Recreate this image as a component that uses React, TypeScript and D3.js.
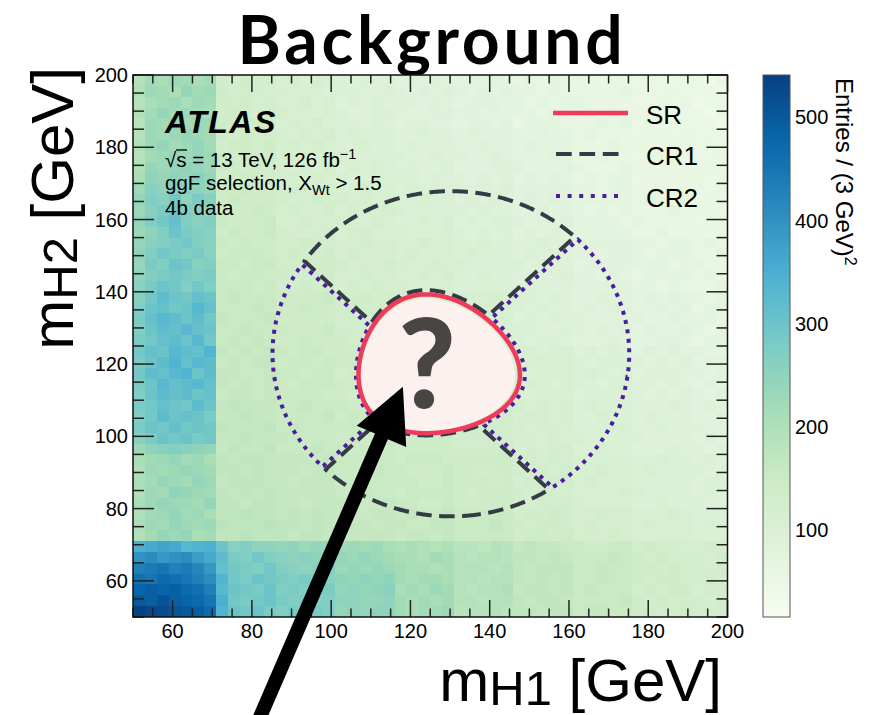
import React, { useMemo } from 'react';
import * as d3 from 'd3';

// ---------------------------------------------------------------------------
// Data
// ---------------------------------------------------------------------------

// Histogram range (GeV) and bin width
const M_MIN = 50;
const M_MAX = 200;
const BIN = 3;

// Entries per (3 GeV)^2 bin, one character per bin along m_H1 (50 -> 200).
// Rows run from the top m_H2 bin (197-200) down to the bottom one (50-53).
// Character code: value = 10 * (LEVELS.indexOf(ch) + 1)
const LEVELS = '0123456789abcdefghijklmnopqrstuvwxyzABCDEFGHIJKLMNOPQRSTUVWXYZ';
const entryRows = [
  'ilkmlkl cbdcc ab9ba 98988 78787 67676 56565 55455 45445 434',
  'jmlknlm dcccb baaa9 99889 87878 76767 66565 55556 54454 443',
  'iklmkml ccdbc aab9a 89898 88787 67776 65656 65555 44545 344',
  'jlnlmlk cdcbc baa9a 98899 87788 77676 66566 56565 54444 434',
  'hmlnlmm dccdc abab9 99898 78877 67767 56665 55656 45454 443',
  'imlmnml dcdcc babab 9a999 88988 78777 66766 56555 45545 444',
  'jmnlmnl cddcd bbaba 99a99 89888 77877 67666 55565 54455 454',
  'ilmnmnm dcdcd abbab a9999 98898 87787 66676 55655 45554 445',
  'jnmnonm ddcdc bab9b 9a9a9 89889 77788 76667 65556 55454 454',
  'kononpn cdddc bbaba a99a9 99898 87878 67676 56566 45555 545',
  'mpoqpon ddedd bcbbb aabaa 9a999 88989 77777 66566 55555 545',
  'nqpsorp deddd cbbcb babaa 99a99 89898 78787 66666 56556 454',
  'mprtqpo ddded bcbbc abaab a9999 98988 77877 65656 55565 554',
  'nqsuqpq eddde bbcbb baaba 99a9a 89899 87778 66665 65555 455',
  'moqtrqp dedde cbbbc abbaa a999a 98989 78787 66666 55655 545',
  'npqrsqp ededd ccdcc bbcbb aabaa 99a99 88988 77777 66566 565',
  'oqsrqrp deeed cdccd bcbbb abaaa 9a999 89898 77677 65666 556',
  'nrqtspq eedee ccdcc cbbbc baaba a9999 98988 67777 66656 655',
  'oqrsrqr edeed dcccd bbcbb aabab 99a99 88889 77676 56666 565',
  'prtsqsq eeede ccdcc bcbcb baaaa 99999 89888 77777 66565 556',
  'psvtsut efeee dddde ccdcc bbbcb aaaba 99898 77877 67676 656',
  'qtustwu eeefe ddedd cdccc bbcbb aabaa 98988 78787 66767 566',
  'ruwvtvs feeef ddddd cccdc cbbbb babaa 89898 87777 76676 665',
  'qtvuwut eefee eddde ccccd bbbcb aaaaa 99889 87878 67667 656',
  'rsuvtws efefe ddedd dcccc bcbbb abaab 98998 77787 66776 566',
  'sutwvux fefef edeed ddcdd ccbcc bbaba aa9aa 89898 78787 766',
  'rtvxuwv efeff deede ddddc ccccb abbaa 9aaaa 98999 87878 677',
  'svuwxtv ffeef eedee cdddd cbccc babab a9aaa 9a989 78887 767',
  'rtwuvwu fefef edeee ddcdd ccccb abaaa aaa9a 99899 88787 676',
  'qtvuvtu effef eeeed dcddd bcccc baaba a9aaa 89999 87878 767',
  'rsutsvt fgfff eefee eddee ddddd ccccc babab 9a999 88898 787',
  'qsvtutr ffgff eeeef dedde ddcdd ccccc abbab 99a99 89888 778',
  'rtsusts gfffg efeee eedde dddcd cdccc babba 9999a 88988 877',
  'prtstrs ffgff feeee dedde cdddd ccccc bbaba a9999 98888 787',
  'mopqpon fgffg eeefe edeee ddddd ccccd ababb 99a99 88898 878',
  'klmnlmk gfggf fffef eeeee deeed ddddd bcbcb aaaaa 99a99 898',
  'jmlmnml ggfgf ffeff eeefe eddde ddcdd cbcbc aabaa 9a999 988',
  'klnmlnm fgggf fefff eeeee eedde dddcd bcbcc abaaa 99999 899',
  'jmlonml gfgfg fffff eefee deeee dcddd cbcbb aaaab a9999 898',
  'kmnmmln ggfgg ffeff feeef eedde ddddd cbccc baaaa 99a99 988',
  'jlmnlmk gghgg fgfgf ffeff efeef eeeee cdcdc bbcbb aaaba 999',
  'kmlnmlm hgggh ggfgf fffef feeff eeefe dcddc bcbbb abaaa 9a9',
  'jlnmnkl gghgg gfggf fffff effef eeeee cddcd bbbcb aaaaa 999',
  'yzAzwxy tpqoo nomnn lmlmk jkjij hhgih fgffe eddee cdccb bcb',
  'DECDEBz vrqsq popoo nmnml kkjlk ihiih ggfgf eeefe dcdcc cbc',
  'GHIGHFC usrqs qpopq mnmnm lkkjk iiihi gfggg eefee ddcdc cbc',
  'JIKJIGE xsrts rqrqp onono lkllk iihii gfgfg eefee dcddc ccb',
  'LMLMKJG wtsrt qrqqr nonop klkml ihiij fggfg efeee cdcdd bcc',
  'NMOMLKI ysrst rqrqq oonno lklkl iihii gfggf eeeef dcdcc cbc',
  'RQPONMK xtstr qrqrq nonoo lkllm hiiih ggfgg effee ddccd ccc',
];

// Colour scale range of the z axis
const Z_MIN = 16;
const Z_MAX = 541;

// Axis ticks
const xMajorTicks = [60, 80, 100, 120, 140, 160, 180, 200];
const yMajorTicks = [60, 80, 100, 120, 140, 160, 180, 200];
const zTicks = [100, 200, 300, 400, 500];
const MINOR_STEP = 5;

// Signal region: X_HH < 1.6 around (124, 117) GeV
const SR_CENTER = [124, 117];
const SR_XHH_CUT = 1.6;
// Control regions: ring of radius 45 GeV around (1.05*124, 1.05*117),
// split into quadrants by the diagonals through the SR centre
const CR_CENTER = [130.2, 122.85];
const CR_RADIUS = 45;

// Pointer arrow (data coordinates: tail below the axis, tip inside the SR)
const arrowTail = [80.3, 17.9];
const arrowTip = [118.1, 113.7];

const legendItems = [
  { label: 'SR', key: 'SR' },
  { label: 'CR1', key: 'CR1' },
  { label: 'CR2', key: 'CR2' },
];

// ---------------------------------------------------------------------------
// Drawing
// ---------------------------------------------------------------------------

const W = 884;
const H = 715;
const PLOT = { left: 133, right: 727.5, top: 75, bottom: 617 };
const SANS = '"Liberation Sans", Arial, Helvetica, sans-serif';

const COLORS = {
  sr: '#f03a5c',
  srFill: '#fdf1ef',
  cr1: '#343a46',
  cr2: '#4b1d9e',
  tick: '#222',
  mark: '#4a4545',
};

function xhh(m1: number, m2: number) {
  const a = (m1 - SR_CENTER[0]) / (0.1 * m1);
  const b = (m2 - SR_CENTER[1]) / (0.1 * m2);
  return Math.sqrt(a * a + b * b);
}

function decodeRows(rows: string[]): number[][] {
  return rows.map((r) =>
    r
      .replace(/\s+/g, '')
      .split('')
      .map((ch) => 10 * (LEVELS.indexOf(ch) + 1))
  );
}

export default function App() {
  const x = d3.scaleLinear().domain([M_MIN, M_MAX]).range([PLOT.left, PLOT.right]);
  const y = d3.scaleLinear().domain([M_MIN, M_MAX]).range([PLOT.bottom, PLOT.top]);
  // GnBu palette, linear between its nine stops
  const palette = d3.schemeGnBu[9] as string[];
  const color = d3
    .scaleLinear<string>()
    .domain(palette.map((_, k) => Z_MIN + (k / (palette.length - 1)) * (Z_MAX - Z_MIN)))
    .range(palette)
    .interpolate(d3.interpolateRgb)
    .clamp(true);
  const zy = d3.scaleLinear().domain([Z_MIN, Z_MAX]).range([PLOT.bottom, PLOT.top]);

  const grid = useMemo(() => decodeRows(entryRows), []);

  const paths = useMemo(() => {
    const step = 0.25;
    const n = Math.round((M_MAX - M_MIN) / step) + 1;
    const toPath = (field: (m1: number, m2: number) => number) => {
      const values: number[] = new Array(n * n);
      for (let r = 0; r < n; r++) {
        const m2 = M_MAX - r * step;
        for (let c = 0; c < n; c++) {
          const m1 = M_MIN + c * step;
          values[r * n + c] = field(m1, m2);
        }
      }
      const [geom] = d3.contours().size([n, n]).thresholds([0])(values);
      let d = '';
      for (const poly of geom.coordinates) {
        for (const ring of poly) {
          ring.forEach((p, i) => {
            const px = x(M_MIN + (p[0] - 0.5) * step);
            const py = y(M_MAX - (p[1] - 0.5) * step);
            d += (i === 0 ? 'M' : 'L') + px.toFixed(2) + ',' + py.toFixed(2);
          });
          d += 'Z';
        }
      }
      return d;
    };
    const ring = (m1: number, m2: number) =>
      CR_RADIUS - Math.hypot(m1 - CR_CENTER[0], m2 - CR_CENTER[1]);
    const quad = (m1: number, m2: number) => {
      const dx = Math.abs(m1 - SR_CENTER[0]);
      const dy = Math.abs(m2 - SR_CENTER[1]);
      return (dy - dx) / Math.SQRT2;
    };
    return {
      sr: toPath((a, b) => 15 * (SR_XHH_CUT - xhh(a, b))),
      srFill: toPath((a, b) => 15 * (SR_XHH_CUT - 0.07 - xhh(a, b))),
      cr1: toPath((a, b) =>
        Math.min(ring(a, b), 15 * (xhh(a, b) - SR_XHH_CUT - 0.07), quad(a, b) - 0.55)
      ),
      cr2: toPath((a, b) =>
        Math.min(ring(a, b), 15 * (xhh(a, b) - SR_XHH_CUT - 0.07), -quad(a, b) - 0.55)
      ),
    };
  }, []);

  // Heatmap cells
  const nBins = (M_MAX - M_MIN) / BIN;
  const cells: React.ReactNode[] = [];
  grid.forEach((row, r) => {
    const j = nBins - 1 - r;
    row.forEach((v, i) => {
      const x0 = x(M_MIN + i * BIN);
      const x1 = x(M_MIN + (i + 1) * BIN);
      const y0 = y(M_MIN + (j + 1) * BIN);
      const y1 = y(M_MIN + j * BIN);
      cells.push(
        <rect key={`${r}-${i}`} x={x0} y={y0} width={x1 - x0} height={y1 - y0} fill={color(v)} />
      );
    });
  });

  // Ticks
  const minor = d3.range(M_MIN, M_MAX + 0.001, MINOR_STEP);
  const tickLines: React.ReactNode[] = [];
  minor.forEach((t) => {
    const major = xMajorTicks.includes(t);
    const lx = major ? 17 : 8.5;
    const px = x(t);
    tickLines.push(<line key={`xb${t}`} x1={px} x2={px} y1={PLOT.bottom} y2={PLOT.bottom - lx} />);
    tickLines.push(<line key={`xt${t}`} x1={px} x2={px} y1={PLOT.top} y2={PLOT.top + lx} />);
    const majorY = yMajorTicks.includes(t);
    const ly = majorY ? 21 : 11;
    const py = y(t);
    tickLines.push(<line key={`yl${t}`} x1={PLOT.left} x2={PLOT.left + ly} y1={py} y2={py} />);
    tickLines.push(<line key={`yr${t}`} x1={PLOT.right} x2={PLOT.right - ly} y1={py} y2={py} />);
  });

  // Arrow polygon
  const T = [x(arrowTail[0]), y(arrowTail[1])];
  const P = [x(arrowTip[0]), y(arrowTip[1])];
  const len = Math.hypot(P[0] - T[0], P[1] - T[1]);
  const u = [(P[0] - T[0]) / len, (P[1] - T[1]) / len];
  const nrm = [-u[1], u[0]];
  const headLen = 54;
  const headHalf = 27;
  const shaftHalf = 7;
  const B = [P[0] - u[0] * headLen, P[1] - u[1] * headLen];
  const pt = (base: number[], k: number) => [base[0] + nrm[0] * k, base[1] + nrm[1] * k];
  const arrowPts = [
    pt(T, shaftHalf),
    pt(B, shaftHalf),
    pt(B, headHalf),
    P,
    pt(B, -headHalf),
    pt(B, -shaftHalf),
    pt(T, -shaftHalf),
  ]
    .map((p) => p[0].toFixed(1) + ',' + p[1].toFixed(1))
    .join(' ');

  // Colour bar gradient
  const gradStops = d3.range(0, 1.0001, 0.05);

  const legendX0 = 553;
  const legendX1 = 628;
  const legendRows = [113, 154, 196];

  return (
    <svg
      width={W}
      height={H}
      viewBox={`0 0 ${W} ${H}`}
      style={{ position: 'absolute', left: 0, top: 0, background: '#fff' }}
      fontFamily={SANS}
    >
      <defs>
        <linearGradient id="zgrad" x1="0" y1="1" x2="0" y2="0">
          {gradStops.map((t) => (
            <stop key={t} offset={t} stopColor={color(Z_MIN + t * (Z_MAX - Z_MIN))} />
          ))}
        </linearGradient>
        <clipPath id="plotclip">
          <rect x={PLOT.left} y={PLOT.top} width={PLOT.right - PLOT.left} height={PLOT.bottom - PLOT.top} />
        </clipPath>
      </defs>

      {/* title */}
      <text
        x={432}
        y={64}
        textAnchor="middle"
        fontFamily="Lato, sans-serif"
        fontWeight={700}
        fontSize={66}
        letterSpacing={3.7}
        fill="#000"
      >
        Background
      </text>

      {/* 2D histogram */}
      <g shapeRendering="crispEdges">{cells}</g>

      {/* regions */}
      <g clipPath="url(#plotclip)">
        <path d={paths.srFill} fill={COLORS.srFill} stroke="none" />
        <path d={paths.cr2} fill="none" stroke={COLORS.cr2} strokeWidth={4} strokeDasharray="4 5.5" />
        <path d={paths.cr1} fill="none" stroke={COLORS.cr1} strokeWidth={4} strokeDasharray="15.5 7.5" />
        <path d={paths.sr} fill="none" stroke={COLORS.sr} strokeWidth={4.5} strokeLinejoin="round" />
      </g>

      {/* frame and ticks */}
      <g stroke={COLORS.tick} strokeWidth={1.5}>{tickLines}</g>
      <rect
        x={PLOT.left}
        y={PLOT.top}
        width={PLOT.right - PLOT.left}
        height={PLOT.bottom - PLOT.top}
        fill="none"
        stroke="#111"
        strokeWidth={1.5}
      />

      {/* tick labels */}
      <g fontSize={20} fill="#000">
        {xMajorTicks.map((t) => (
          <text key={`xl${t}`} x={x(t)} y={638} textAnchor="middle">
            {t}
          </text>
        ))}
        {yMajorTicks.map((t) => (
          <text key={`yl${t}`} x={128} y={y(t) + 7} textAnchor="end">
            {t}
          </text>
        ))}
      </g>

      {/* axis titles */}
      <text x={722} y={701} textAnchor="end" fontSize={60} fill="#000">
        m
        <tspan fontSize={49} dy={4}>
          H1
        </tspan>
        <tspan dy={-4}> [GeV]</tspan>
      </text>
      <text transform="translate(73,67) rotate(-90)" textAnchor="end" fontSize={60} fill="#000">
        m
        <tspan fontSize={49} dy={4}>
          H2
        </tspan>
        <tspan dy={-4}> [GeV]</tspan>
      </text>

      {/* ATLAS label */}
      <text x={165} y={133} fontSize={32} fontWeight={700} fontStyle="italic" letterSpacing={1.5} fill="#000">
        ATLAS
      </text>
      <g fontSize={20.5} fill="#000">
        <text x={165} y={167}>
          √s = 13 TeV, 126 fb
          <tspan fontSize={14.5} dy={-8}>
            −1
          </tspan>
        </text>
        <line x1={176} x2={187} y1={150} y2={150} stroke="#000" strokeWidth={1.3} />
        <text x={165} y={190}>
          ggF selection, X
          <tspan fontSize={14.5} dy={5}>
            Wt
          </tspan>
          <tspan dy={-5}> &gt; 1.5</tspan>
        </text>
        <text x={165} y={215}>
          4b data
        </text>
      </g>

      {/* legend */}
      <g>
        {legendItems.map((it, k) => {
          const ly = legendRows[k];
          const stroke =
            it.key === 'SR' ? (
              <line x1={legendX0} x2={legendX1} y1={ly} y2={ly} stroke={COLORS.sr} strokeWidth={4.5} />
            ) : it.key === 'CR1' ? (
              <line x1={556} x2={618.5} y1={ly} y2={ly} stroke={COLORS.cr1} strokeWidth={4} strokeDasharray="15.7 7.7" />
            ) : (
              <line x1={556} x2={618} y1={ly} y2={ly} stroke={COLORS.cr2} strokeWidth={4} strokeDasharray="4 7.6" />
            );
          return (
            <g key={it.key}>
              {stroke}
              <text x={646} y={ly + 11} fontSize={26} fill="#000">
                {it.label}
              </text>
            </g>
          );
        })}
      </g>

      {/* question mark and pointer */}
      <text x={427} y={408} textAnchor="middle" fontFamily="Lato, sans-serif" fontWeight={900} fontSize={124} fill={COLORS.mark}>
        ?
      </text>
      <polygon points={arrowPts} fill="#000" />

      {/* colour bar */}
      <rect
        x={763}
        y={PLOT.top}
        width={27}
        height={PLOT.bottom - PLOT.top}
        fill="url(#zgrad)"
        stroke="#555"
        strokeWidth={1}
      />
      <g fontSize={20} fill="#000">
        {zTicks.map((t) => (
          <text key={`z${t}`} x={795} y={zy(t) + 7}>
            {t}
          </text>
        ))}
      </g>
      <text transform="translate(836,78) rotate(90)" fontSize={24} fill="#000">
        Entries / (3 GeV)
        <tspan fontSize={16} dy={-9}>
          2
        </tspan>
      </text>
    </svg>
  );
}
